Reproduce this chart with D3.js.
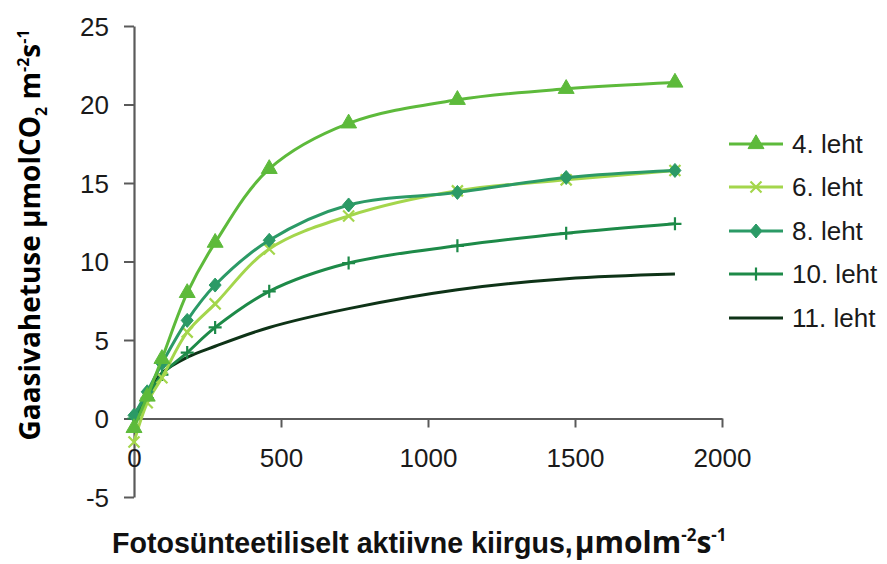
<!DOCTYPE html>
<html>
<head>
<meta charset="utf-8">
<script src="https://cdn.jsdelivr.net/npm/d3@7"></script>
<style>
  html, body { margin: 0; padding: 0; background: #fff; }
  svg { display: block; }
</style>
</head>
<body>
<svg id="chart" width="887" height="564"></svg>
<script>
// Light response of leaf gas exchange, PAR levels (µmol m-2 s-1)
const par = [0, 45, 95, 181, 276, 460, 730, 1100, 1470, 1840];

const seriesNames = ["4. leht", "6. leht", "8. leht", "10. leht", "11. leht"];
const leaf4  = [-0.6, 1.4, 3.8, 8.0, 11.2, 15.9, 18.8, 20.3, 21.0, 21.4];
const leaf6  = [-1.5, 1.0, 2.6, 5.5, 7.3, 10.8, 12.9, 14.5, 15.2, 15.8];
const leaf8  = [0.2, 1.7, 3.5, 6.25, 8.5, 11.35, 13.6, 14.4, 15.35, 15.8];
const leaf10 = [0.0, 1.3, 2.8, 4.2, 5.8, 8.1, 9.9, 11.0, 11.8, 12.4];
const leaf11 = [0.2, 1.5, 2.9, 3.9, 4.6, 5.8, 7.0, 8.2, 8.9, 9.2];

const seriesColors  = ["#5dba3b", "#a4d64c", "#2b9a66", "#1d8a48", "#0e3317"];
const seriesMarkers = ["triangle", "times", "diamond", "plus", "none"];

const xTicks = [0, 500, 1000, 1500, 2000];
const yTicks = [-5, 0, 5, 10, 15, 20, 25];

const series = seriesNames.map((name, i) => ({
  name,
  values: [leaf4, leaf6, leaf8, leaf10, leaf11][i],
  color: seriesColors[i],
  marker: seriesMarkers[i]
}));

const svg = d3.select("#chart");
const x = d3.scaleLinear().domain([0, 2000]).range([134, 722]);
const y = d3.scaleLinear().domain([-5, 25]).range([497, 26]);

const axisColor = "#5a5a5a";
const tickFont = "'Liberation Sans', Arial, sans-serif";
const plain = d => String(d);

// y axis (left, ticks outside)
const yAxis = svg.append("g")
  .attr("transform", `translate(${x(0)},0)`)
  .call(d3.axisLeft(y).tickValues(yTicks).tickFormat(plain)
    .tickSize(10).tickSizeOuter(0).tickPadding(15));
// x axis drawn along the zero line
const xAxis = svg.append("g")
  .attr("transform", `translate(0,${y(0)})`)
  .call(d3.axisBottom(x).tickValues(xTicks).tickFormat(plain)
    .tickSize(9).tickSizeOuter(0).tickPadding(21));

[yAxis, xAxis].forEach(g => {
  g.select(".domain").attr("stroke", axisColor).attr("stroke-width", 2.2);
  g.selectAll(".tick line").attr("stroke", axisColor).attr("stroke-width", 2);
  g.selectAll(".tick text")
    .attr("fill", "#1a1a1a")
    .style("font-family", tickFont)
    .style("font-size", "26px");
});
xAxis.selectAll(".tick").filter(d => d === 0).select("line").remove();
yAxis.selectAll(".tick text").attr("dy", "0.36em");

// marker shapes
function markerPath(kind) {
  switch (kind) {
    case "triangle": return d3.symbol().type(d3.symbolTriangle).size(110)();
    case "diamond":  return "M0,-7L6,0L0,7L-6,0Z";
    case "times":    return "M-5.5,-5.5L5.5,5.5M-5.5,5.5L5.5,-5.5";
    case "plus":     return "M-6.5,0L6.5,0M0,-6.5L0,6.5";
    default: return null;
  }
}
function drawMarker(g, kind, color, cx, cy) {
  const p = markerPath(kind);
  if (!p) return;
  const filled = kind === "triangle" || kind === "diamond";
  g.append("path")
    .attr("d", p)
    .attr("transform", `translate(${cx},${cy})`)
    .attr("fill", filled ? color : "none")
    .attr("stroke", color)
    .attr("stroke-width", filled ? 1 : 2.2);
}

const line = d3.line()
  .x((d, i) => x(par[i]))
  .y(d => y(d))
  .curve(d3.curveCatmullRom.alpha(0.5));

// drawing order: darkest first, brightest on top
const order = [4, 3, 1, 2, 0];
order.forEach(idx => {
  const s = series[idx];
  const g = svg.append("g");
  g.append("path")
    .datum(s.values)
    .attr("d", line)
    .attr("fill", "none")
    .attr("stroke", s.color)
    .attr("stroke-width", 3)
    .attr("stroke-linejoin", "round");
  s.values.forEach((v, i) => drawMarker(g, s.marker, s.color, x(par[i]), y(v)));
});

// legend
const legend = svg.append("g");
const legendY = [144, 187, 231, 274, 318];
series.forEach((s, i) => {
  const gy = legendY[i];
  legend.append("line")
    .attr("x1", 729).attr("x2", 783)
    .attr("y1", gy).attr("y2", gy)
    .attr("stroke", s.color).attr("stroke-width", 3);
  drawMarker(legend, s.marker, s.color, 756, gy);
  legend.append("text")
    .attr("x", 792).attr("y", gy)
    .attr("dy", "0.36em")
    .attr("fill", "#1a1a1a")
    .style("font-family", tickFont)
    .style("font-size", "26px")
    .text(s.name);
});

// y axis title
const yTitle = svg.append("text")
  .attr("transform", "translate(40,235) rotate(-90)")
  .attr("text-anchor", "middle")
  .attr("fill", "#000")
  .style("font-family", "'Open Sans', 'Noto Sans', sans-serif")
  .style("font-weight", "700")
  .style("font-size", "28px");
yTitle.append("tspan").text("Gaasivahetuse µmolCO");
yTitle.append("tspan").attr("dy", 7).style("font-size", "16px").text("2");
yTitle.append("tspan").attr("dy", -7).text(" m");
yTitle.append("tspan").attr("dy", -11).style("font-size", "16px").text("-2");
yTitle.append("tspan").attr("dy", 11).text("s");
yTitle.append("tspan").attr("dy", -11).style("font-size", "16px").text("-1");

// x axis title: label text followed directly by the unit with superscripts
const unitFont = "'Open Sans', 'Noto Sans', sans-serif";
const xTitle = svg.append("text")
  .attr("x", 112).attr("y", 553)
  .attr("fill", "#111")
  .style("font-weight", "700");
xTitle.append("tspan")
  .style("font-family", tickFont)
  .style("font-size", "28.6px")
  .text("Fotosünteetiliselt aktiivne kiirgus,");
xTitle.append("tspan").attr("dx", 2)
  .style("font-family", unitFont).style("font-size", "30px").text("µmolm");
xTitle.append("tspan").attr("dy", -12)
  .style("font-family", unitFont).style("font-size", "17px").text("-2");
xTitle.append("tspan").attr("dy", 12)
  .style("font-family", unitFont).style("font-size", "30px").text("s");
xTitle.append("tspan").attr("dy", -12)
  .style("font-family", unitFont).style("font-size", "17px").text("-1");
</script>
</body>
</html>
